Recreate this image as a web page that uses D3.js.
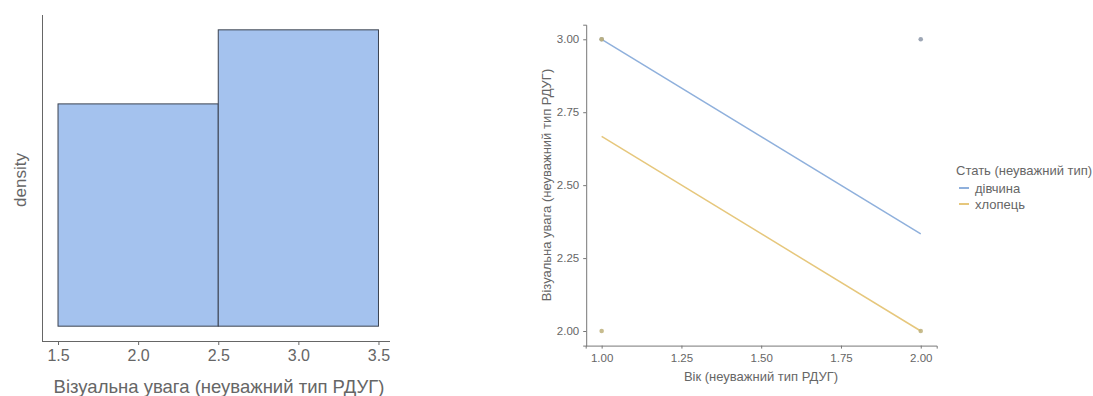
<!DOCTYPE html>
<html>
<head>
<meta charset="utf-8">
<script src="https://cdn.jsdelivr.net/npm/d3@7"></script>
<style>
  body { margin: 0; background: #fff; }
  svg { display: block; font-family: "Liberation Sans", Arial, sans-serif; }
</style>
</head>
<body>
<div id="chart"></div>
<script>
// ── Data ─────────────────────────────────────
// histogram (left)
const histBreaks  = [1.5, 2.5, 3.5];
const histDensity = [0.4286, 0.5714];
const histTicks   = [1.5, 2.0, 2.5, 3.0, 3.5];

// scatter + fitted lines (right)
const groups      = ["дівчина", "хлопець"];
const pointX      = [1, 1, 1, 2, 2];
const pointY      = [3, 3, 2, 3, 2];
const pointGroup  = ["дівчина", "хлопець", "хлопець", "дівчина", "хлопець"];
const fitX        = [1, 2];
const fitGirl     = [3.0, 2.333];
const fitBoy      = [2.667, 2.0];
const ageTicks    = [1.00, 1.25, 1.50, 1.75, 2.00];
const attnTicks   = [2.00, 2.25, 2.50, 2.75, 3.00];

const LINE_COLORS  = { "дівчина": "#8fb0dc", "хлопець": "#e6c77c" };
const POINT_COLORS = { "дівчина": "#8c96a8", "хлопець": "#bdb07a" };

const svg = d3.select("#chart").append("svg")
  .attr("width", 1093).attr("height", 396);

// ── Left: histogram ──────────────────────────
(function () {
  const x = d3.scaleLinear().domain([1.4, 3.6]).range([42, 394.5]);
  const y = d3.scaleLinear().domain([-0.02857, 0.6]).range([341, 15]);
  const g = svg.append("g");

  const bins = histDensity.map((d, i) => ({ x0: histBreaks[i], x1: histBreaks[i + 1], d }));
  g.selectAll(".bar").data(bins).join("rect")
    .attr("x", d => x(d.x0))
    .attr("y", d => y(d.d))
    .attr("width", d => x(d.x1) - x(d.x0))
    .attr("height", d => y(0) - y(d.d))
    .attr("fill", "#a4c2ee").attr("stroke", "#3b4250").attr("stroke-width", 1);

  // axes
  const xAxis = g.append("g").attr("transform", "translate(0,341)")
    .call(d3.axisBottom(x).tickValues(histTicks).tickFormat(d3.format(".1f")).tickSize(4).tickPadding(5));
  xAxis.select(".domain").attr("stroke", "#666").attr("d", "M42,0.5H390");
  xAxis.selectAll(".tick line").attr("stroke", "#666");
  xAxis.selectAll("text").attr("font-size", "16px").attr("fill", "#666");

  g.append("line").attr("x1", 42.5).attr("x2", 42.5).attr("y1", 15).attr("y2", 341.5)
    .attr("stroke", "#666");

  g.append("text").attr("x", 219).attr("y", 393)
    .attr("text-anchor", "middle").attr("font-size", "18.5px").attr("fill", "#666")
    .text("Візуальна увага (неуважний тип РДУГ)");
  g.append("text").attr("transform", "translate(26,180) rotate(-90)")
    .attr("text-anchor", "middle").attr("font-size", "17px").attr("fill", "#666")
    .text("density");
})();

// ── Right: scatter with fitted lines ─────────
(function () {
  const x = d3.scaleLinear().domain([0.95, 2.05]).range([585.7, 936.7]);
  const y = d3.scaleLinear().domain([1.95, 3.05]).range([345.6, 24.7]);
  const g = svg.append("g");

  const fits = [
    { group: "дівчина", vals: fitGirl },
    { group: "хлопець", vals: fitBoy }
  ];
  const line = d3.line().x((d, i) => x(fitX[i])).y(d => y(d));
  g.selectAll(".fit").data(fits).join("path")
    .attr("d", d => line(d.vals))
    .attr("fill", "none").attr("stroke", d => LINE_COLORS[d.group]).attr("stroke-width", 1.5);

  const pts = pointX.map((v, i) => ({ x: v, y: pointY[i], group: pointGroup[i] }));
  g.selectAll(".pt").data(pts).join("circle")
    .attr("cx", d => x(d.x)).attr("cy", d => y(d.y)).attr("r", 2.3)
    .attr("fill", d => POINT_COLORS[d.group]).attr("fill-opacity", 0.85);

  const xAxis = g.append("g").attr("transform", "translate(0,345.6)")
    .call(d3.axisBottom(x).tickValues(ageTicks).tickFormat(d3.format(".2f")).tickSize(3).tickPadding(5));
  const yAxis = g.append("g").attr("transform", "translate(586.2,0)")
    .call(d3.axisLeft(y).tickValues(attnTicks).tickFormat(d3.format(".2f")).tickSize(3).tickPadding(4));
  [xAxis, yAxis].forEach(a => {
    a.select(".domain").attr("stroke", "#777");
    a.selectAll(".tick line").attr("stroke", "#777");
    a.selectAll("text").attr("font-size", "11.5px").attr("fill", "#666");
  });

  g.append("text").attr("x", 761).attr("y", 381)
    .attr("text-anchor", "middle").attr("font-size", "13px").attr("fill", "#666")
    .text("Вік (неуважний тип РДУГ)");
  g.append("text").attr("transform", "translate(551,185) rotate(-90)")
    .attr("text-anchor", "middle").attr("font-size", "13px").attr("fill", "#666")
    .text("Візуальна увага (неуважний тип РДУГ)");

  // legend
  const lg = g.append("g").attr("transform", "translate(956,0)");
  lg.append("text").attr("x", 0).attr("y", 174.5)
    .attr("font-size", "13px").attr("fill", "#666").text("Стать (неуважний тип)");
  const items = lg.selectAll(".item").data(groups).join("g")
    .attr("transform", (d, i) => `translate(0,${188 + i * 16})`);
  items.append("line").attr("x1", 3).attr("x2", 13).attr("y1", 0).attr("y2", 0)
    .attr("stroke", d => LINE_COLORS[d]).attr("stroke-width", 2);
  items.append("text").attr("x", 19).attr("y", 4.5)
    .attr("font-size", "13px").attr("fill", "#666").text(d => d);
})();
</script>
</body>
</html>
